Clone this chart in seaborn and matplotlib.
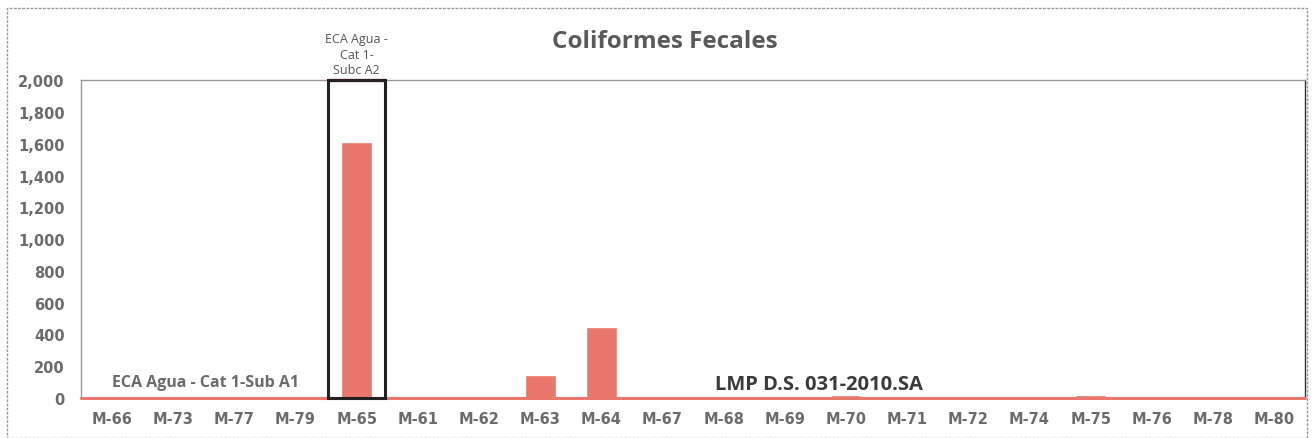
import matplotlib
matplotlib.use("Agg")
import matplotlib.pyplot as plt
import seaborn as sns
import pandas as pd
from matplotlib.patches import Rectangle

# datos
estaciones = ["M-66", "M-73", "M-77", "M-79", "M-65", "M-61", "M-62", "M-63", "M-64", "M-67",
              "M-68", "M-69", "M-70", "M-71", "M-72", "M-74", "M-75", "M-76", "M-78", "M-80"]
coliformes = [2, 2, 2, 2, 1610, 2, 2, 145, 450, 2,
              2, 2, 20, 2, 2, 2, 22, 2, 2, 2]
eca_a1 = 0
eca_a2 = 2000
lmp = 0
y_ticks = [0, 200, 400, 600, 800, 1000, 1200, 1400, 1600, 1800, 2000]

df = pd.DataFrame({"estacion": estaciones, "valor": coliformes})

sns.set_style("white")
plt.rcParams["font.family"] = ["Open Sans", "DejaVu Sans"]

rojo = "#E9776C"
gris = "#6b6b6b"

fig = plt.figure(figsize=(13.14, 4.39), dpi=100)
ax = fig.add_axes([0.062, 0.091, 0.931, 0.724])

sns.barplot(data=df, x="estacion", y="valor", color=rojo, width=0.5,
            saturation=1, ax=ax)

ax.set_xlim(-0.5, len(estaciones) - 0.5)
ax.set_ylim(0, 2000)
ax.set_yticks(y_ticks)
ax.set_yticklabels([f"{v:,}" for v in y_ticks])
ax.set_xlabel("")
ax.set_ylabel("")
ax.tick_params(axis="y", length=0, pad=12)
ax.tick_params(axis="x", length=0, pad=9)
for lab in ax.get_xticklabels() + ax.get_yticklabels():
    lab.set_fontfamily("DejaVu Sans")
    lab.set_fontweight("bold")
    lab.set_fontsize(10.5)
    lab.set_color(gris)

# lineas de referencia
ax.axhline(eca_a1, color=rojo, lw=2.2, zorder=5, clip_on=False)
ax.axhline(lmp, color=rojo, lw=1.2, zorder=5, clip_on=False)
i65 = estaciones.index("M-65")
ax.plot([i65 - 0.47, i65 + 0.47], [eca_a2, eca_a2], color=rojo, lw=2.5,
        clip_on=False, zorder=6)
ax.add_patch(Rectangle((i65 - 0.47, 0), 0.94, eca_a2, fill=False,
                       edgecolor="#222222", lw=2.2, clip_on=False, zorder=7))

for s in ["top", "left"]:
    ax.spines[s].set_color("#999999")
    ax.spines[s].set_linestyle((0, (2, 1)))
    ax.spines[s].set_linewidth(1)
ax.spines["right"].set_color("#333333")
ax.spines["right"].set_linewidth(1)
ax.spines["bottom"].set_visible(False)

ax.text(1.53, 100, "ECA Agua - Cat 1-Sub A1", ha="center", va="center",
        fontsize=11.5, fontweight="bold", color=gris)
ax.text(11.55, 88, "LMP D.S. 031-2010.SA", ha="center", va="center",
        fontsize=14.5, fontweight="bold", color="#3a3a3a")
ax.text(i65, 2025, "ECA Agua -\nCat 1-\nSubc A2", ha="center", va="bottom",
        fontsize=9, color="#555555", linespacing=1.25, clip_on=False)

fig.text(0.506, 0.904, "Coliformes Fecales", ha="center", va="center",
         fontsize=17.5, fontweight="bold", color="#5a5a5a")

# marco del grafico
fig.patches.append(Rectangle((0.005, 0.0), 0.99, 0.98, transform=fig.transFigure,
                             fill=False, edgecolor="#999999", lw=1,
                             linestyle=(0, (2, 1))))

fig.savefig("out.png", dpi=100)
